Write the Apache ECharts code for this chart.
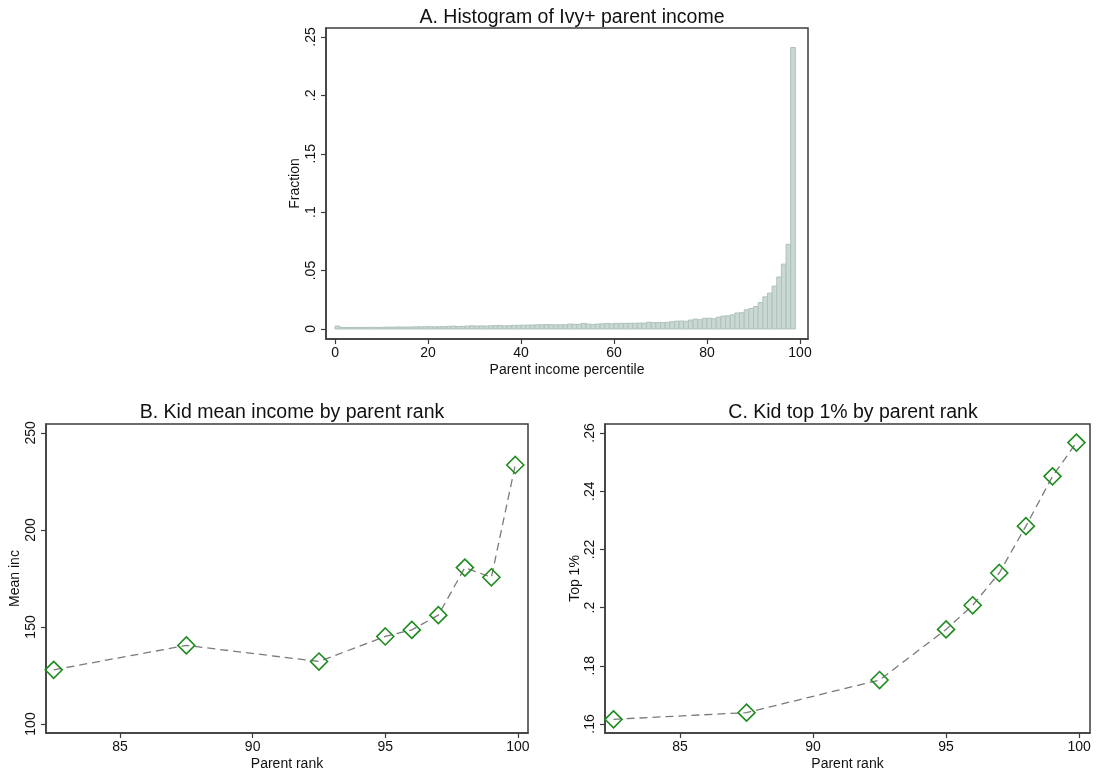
<!DOCTYPE html>
<html>
<head>
<meta charset="utf-8">
<script src="https://cdn.jsdelivr.net/npm/echarts@6/dist/echarts.min.js"></script>
<style>
  html, body { margin: 0; padding: 0; background: #ffffff; }
  #chart { width: 1098px; height: 773px; }
</style>
</head>
<body>
<div id="chart"></div>
<script>
// Panel A: share of Ivy+ students by parent income percentile (bins of width 1)
const histFractions = [
  0.0025, 0.0013, 0.0012, 0.0013, 0.0013, 0.0014, 0.0013, 0.0014, 0.0014, 0.0013,
  0.0015, 0.0016, 0.0015, 0.0017, 0.0016, 0.0016, 0.0017, 0.0018, 0.0018, 0.0019,
  0.0019, 0.0018, 0.0019, 0.0019, 0.0022, 0.0024, 0.0021, 0.0023, 0.0025, 0.0027,
  0.0025, 0.0026, 0.0025, 0.0027, 0.0029, 0.0030, 0.0026, 0.0028, 0.0031, 0.0031,
  0.0032, 0.0033, 0.0034, 0.0035, 0.0036, 0.0038, 0.0036, 0.0035, 0.0036, 0.0036,
  0.0042, 0.0040, 0.0040, 0.0048, 0.0041, 0.0039, 0.0042, 0.0044, 0.0048, 0.0044,
  0.0048, 0.0048, 0.0048, 0.0049, 0.0049, 0.0050, 0.0050, 0.0058, 0.0054, 0.0055,
  0.0054, 0.0057, 0.0062, 0.0067, 0.0068, 0.0066, 0.0076, 0.0084, 0.0079, 0.0091,
  0.0092, 0.0087, 0.0101, 0.0110, 0.0113, 0.0121, 0.0137, 0.0139, 0.0164, 0.0176,
  0.0192, 0.0226, 0.0275, 0.0307, 0.0367, 0.0445, 0.0555, 0.0725, 0.2410
];
const histXTicks = [0, 20, 40, 60, 80, 100];
const histYTicks = [0, 0.05, 0.1, 0.15, 0.2, 0.25];

// Panels B and C: outcomes of children by parent rank
const parentRank = [82.5, 87.5, 92.5, 95, 96, 97, 98, 99, 99.9];
const kidMeanIncome = [127.9, 140.5, 132.2, 145.1, 148.5, 156.1, 180.6, 175.6, 233.5];
const kidTop1Share = [0.1616, 0.1639, 0.1751, 0.1925, 0.2008, 0.2119, 0.2280, 0.2451, 0.2567];
const rankTicks = [85, 90, 95, 100];
const meanIncTicks = [100, 150, 200, 250];
const top1Ticks = [0.16, 0.18, 0.2, 0.22, 0.24, 0.26];

const FONT = '"Liberation Sans", Arial, sans-serif';
const AXIS_COLOR = '#3c3c3c';
const TEXT_COLOR = '#111111';

// Stata-style number: drop the leading zero (0.25 -> .25)
function stataNum(v) {
  const s = String(+v.toFixed(4));
  return s.startsWith('0.') ? s.slice(1) : s;
}

function xAxisCfg(gridIndex, min, max, ticks, name) {
  return {
    type: 'value', gridIndex, min, max,
    name, nameLocation: 'middle', nameGap: 24,
    nameTextStyle: { fontFamily: FONT, fontSize: 14, color: TEXT_COLOR },
    axisLine: { show: true, onZero: false, lineStyle: { color: AXIS_COLOR, width: 1.5 } },
    axisTick: { show: true, length: 5, customValues: ticks, lineStyle: { color: AXIS_COLOR, width: 1.2 } },
    axisLabel: { customValues: ticks, margin: 7, fontFamily: FONT, fontSize: 14, color: TEXT_COLOR,
                 formatter: v => stataNum(v) },
    splitLine: { show: false }
  };
}

function yAxisCfg(gridIndex, min, max, ticks, name, gap) {
  return {
    type: 'value', gridIndex, min, max,
    name, nameLocation: 'middle', nameGap: gap, nameRotate: 90,
    nameTextStyle: { fontFamily: FONT, fontSize: 14, color: TEXT_COLOR },
    axisLine: { show: true, onZero: false, lineStyle: { color: AXIS_COLOR, width: 1.5 } },
    axisTick: { show: true, length: 5, customValues: ticks, lineStyle: { color: AXIS_COLOR, width: 1.2 } },
    axisLabel: { customValues: ticks, rotate: 90, margin: 8, fontFamily: FONT, fontSize: 14, color: TEXT_COLOR,
                 align: 'center', verticalAlign: 'bottom',
                 formatter: v => stataNum(v) },
    splitLine: { show: false }
  };
}

function gridCfg(left, top, width, height) {
  return { left, top, width, height, show: true, borderColor: AXIS_COLOR, borderWidth: 1.5,
           backgroundColor: '#ffffff' };
}

function titleCfg(text, left, top) {
  return { text, left, top, textAlign: 'center',
           textStyle: { fontFamily: FONT, fontSize: 19.5, fontWeight: 'normal', color: TEXT_COLOR } };
}

function rankSeries(gridIdx, values) {
  return {
    type: 'line', xAxisIndex: gridIdx, yAxisIndex: gridIdx,
    data: parentRank.map((r, i) => [r, values[i]]),
    symbol: 'diamond', symbolSize: 17,
    itemStyle: { color: 'rgba(0,0,0,0)', borderColor: '#1e8c1e', borderWidth: 1.6 },
    lineStyle: { color: '#7a7a7a', width: 1.3, type: [8, 5] },
    emphasis: { disabled: true },
    z: 3
  };
}

const histData = histFractions.map((f, i) => [i, i + 1, f]);

const option = {
  animation: false,
  backgroundColor: '#ffffff',
  title: [
    titleCfg('A. Histogram of Ivy+ parent income', 567, 3),
    titleCfg('B. Kid mean income by parent rank', 287, 398),
    titleCfg('C. Kid top 1% by parent rank', 848, 398)
  ],
  grid: [
    gridCfg(326, 28, 482, 311),
    gridCfg(46, 424, 482, 309),
    gridCfg(605, 424, 485, 309)
  ],
  xAxis: [
    xAxisCfg(0, -1.94, 101.72, histXTicks, 'Parent income percentile'),
    xAxisCfg(1, 82.21, 100.38, rankTicks, 'Parent rank'),
    xAxisCfg(2, 82.18, 100.41, rankTicks, 'Parent rank')
  ],
  yAxis: [
    yAxisCfg(0, -0.0086, 0.2577, histYTicks, 'Fraction', 24),
    yAxisCfg(1, 95.36, 254.6, meanIncTicks, 'Mean inc', 24),
    yAxisCfg(2, 0.1569, 0.2631, top1Ticks, 'Top 1%', 23)
  ],
  series: [
    {
      type: 'custom', xAxisIndex: 0, yAxisIndex: 0,
      data: histData,
      renderItem: function (params, api) {
        const p0 = api.coord([api.value(0), 0]);
        const p1 = api.coord([api.value(1), api.value(2)]);
        return {
          type: 'rect',
          shape: { x: p0[0], y: p1[1], width: p1[0] - p0[0], height: p0[1] - p1[1] },
          style: { fill: '#c9d8d2', stroke: '#aec2bb', lineWidth: 1 }
        };
      },
      encode: { x: [0, 1], y: 2 }
    },
    rankSeries(1, kidMeanIncome),
    rankSeries(2, kidTop1Share)
  ]
};

const chart = echarts.init(document.getElementById('chart'), null, { renderer: 'canvas' });
chart.setOption(option);
</script>
</body>
</html>
